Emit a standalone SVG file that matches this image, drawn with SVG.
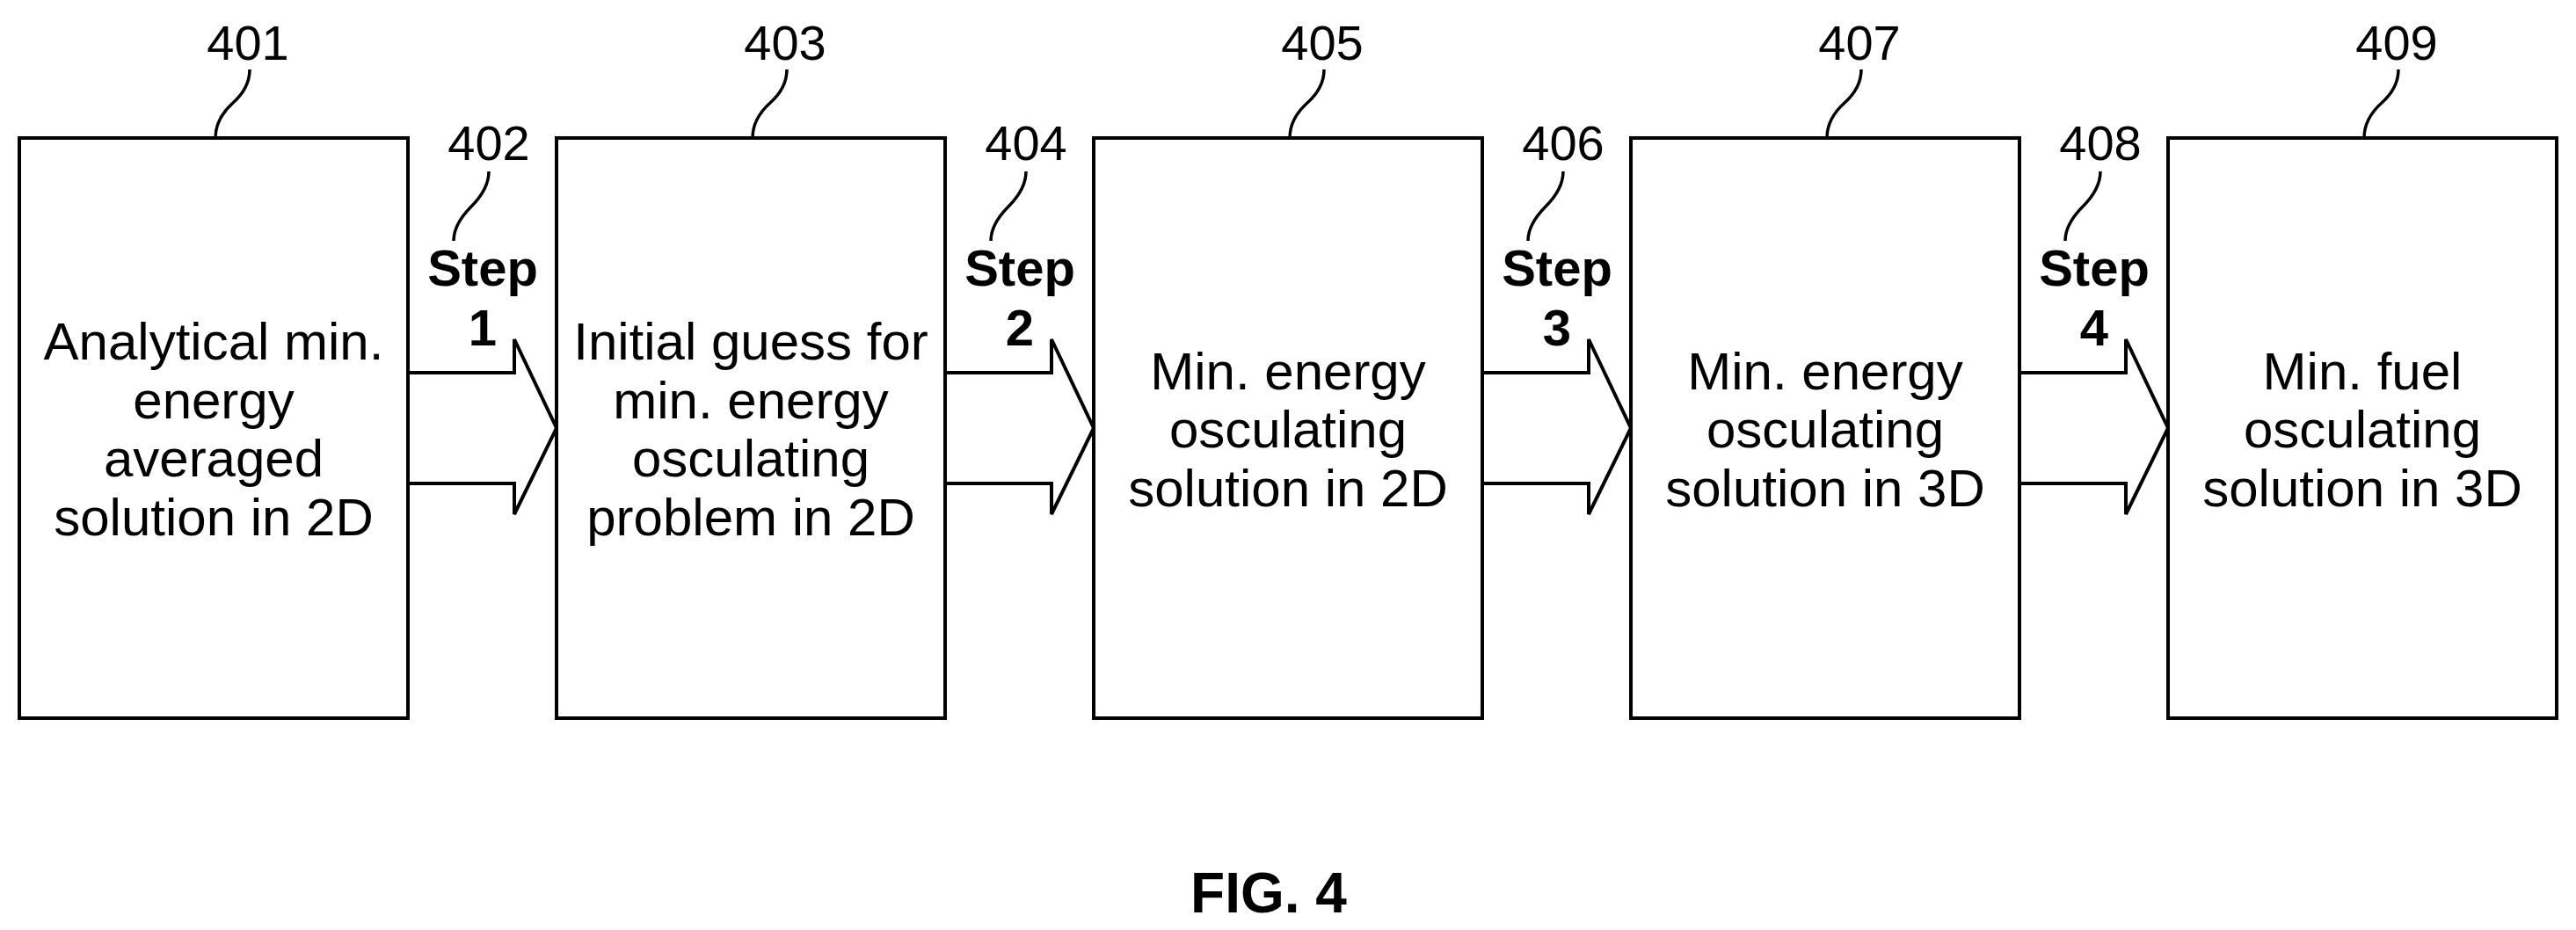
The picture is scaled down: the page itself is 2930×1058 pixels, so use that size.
<svg xmlns="http://www.w3.org/2000/svg" width="2930" height="1058" viewBox="0 0 2930 1058">
<style>
.box{fill:#fff;stroke:#000;stroke-width:4}
.arr{fill:#fff;stroke:#000;stroke-width:4;stroke-linejoin:miter}
.ld{fill:none;stroke:#000;stroke-width:3.5}
text{font-family:"Liberation Sans Narrow","Liberation Sans",Arial,sans-serif;text-anchor:middle;fill:#000}
.t{font-size:60px}
.n{font-size:56px}
.s{font-size:58px;font-weight:bold}
</style>
<rect width="2930" height="1058" fill="#fff"/>
<g id="connectors">
<path class="arr" d="M464,424 H585 V386 L633,487 L585,585 V550 H464"/>
<path class="arr" d="M1075,424 H1196 V386 L1244,487 L1196,585 V550 H1075"/>
<path class="arr" d="M1686,424 H1807 V386 L1855,487 L1807,585 V550 H1686"/>
<path class="arr" d="M2297,424 H2418 V386 L2466,487 L2418,585 V550 H2297"/>
<g id="step1"><path class="ld" d="M556,195 Q556,215 536,235 Q516,255 516,274"/><text class="n" x="556" y="182">402</text><text class="s" x="549" y="325">Step</text><text class="s" x="549" y="393">1</text></g>
<g id="step2"><path class="ld" d="M1167,195 Q1167,215 1147,235 Q1127,255 1127,274"/><text class="n" x="1167" y="182">404</text><text class="s" x="1160" y="325">Step</text><text class="s" x="1160" y="393">2</text></g>
<g id="step3"><path class="ld" d="M1778,195 Q1778,215 1758,235 Q1738,255 1738,274"/><text class="n" x="1778" y="182">406</text><text class="s" x="1771" y="325">Step</text><text class="s" x="1771" y="393">3</text></g>
<g id="step4"><path class="ld" d="M2389,195 Q2389,215 2369,235 Q2349,255 2349,274"/><text class="n" x="2389" y="182">408</text><text class="s" x="2382" y="325">Step</text><text class="s" x="2382" y="393">4</text></g>
</g>
<g id="n401"><rect class="box" x="22" y="157" width="442" height="660"/><path class="ld" d="M284,79 Q284,100 265,117 Q245,135 245,157"/><text class="n" x="282" y="68">401</text>
<text class="t" x="243"><tspan x="243" y="409">Analytical min.</tspan><tspan x="243" y="476">energy</tspan><tspan x="243" y="542">averaged</tspan><tspan x="243" y="609">solution in 2D</tspan></text></g>
<g id="n403"><rect class="box" x="633" y="157" width="442" height="660"/><path class="ld" d="M895,79 Q895,100 876,117 Q856,135 856,157"/><text class="n" x="893" y="68">403</text>
<text class="t"><tspan x="854" y="409">Initial guess for</tspan><tspan x="854" y="476">min. energy</tspan><tspan x="854" y="542">osculating</tspan><tspan x="854" y="609">problem in 2D</tspan></text></g>
<g id="n405"><rect class="box" x="1244" y="157" width="442" height="660"/><path class="ld" d="M1506,79 Q1506,100 1487,117 Q1467,135 1467,157"/><text class="n" x="1504" y="68">405</text>
<text class="t"><tspan x="1465" y="443">Min. energy</tspan><tspan x="1465" y="509">osculating</tspan><tspan x="1465" y="576">solution in 2D</tspan></text></g>
<g id="n407"><rect class="box" x="1855" y="157" width="442" height="660"/><path class="ld" d="M2117,79 Q2117,100 2098,117 Q2078,135 2078,157"/><text class="n" x="2115" y="68">407</text>
<text class="t"><tspan x="2076" y="443">Min. energy</tspan><tspan x="2076" y="509">osculating</tspan><tspan x="2076" y="576">solution in 3D</tspan></text></g>
<g id="n409"><rect class="box" x="2466" y="157" width="442" height="660"/><path class="ld" d="M2728,79 Q2728,100 2709,117 Q2689,135 2689,157"/><text class="n" x="2726" y="68">409</text>
<text class="t"><tspan x="2687" y="443">Min. fuel</tspan><tspan x="2687" y="509">osculating</tspan><tspan x="2687" y="576">solution in 3D</tspan></text></g>
<text x="1443" y="1038" style="font-size:64px;font-weight:bold">FIG. 4</text>
</svg>
